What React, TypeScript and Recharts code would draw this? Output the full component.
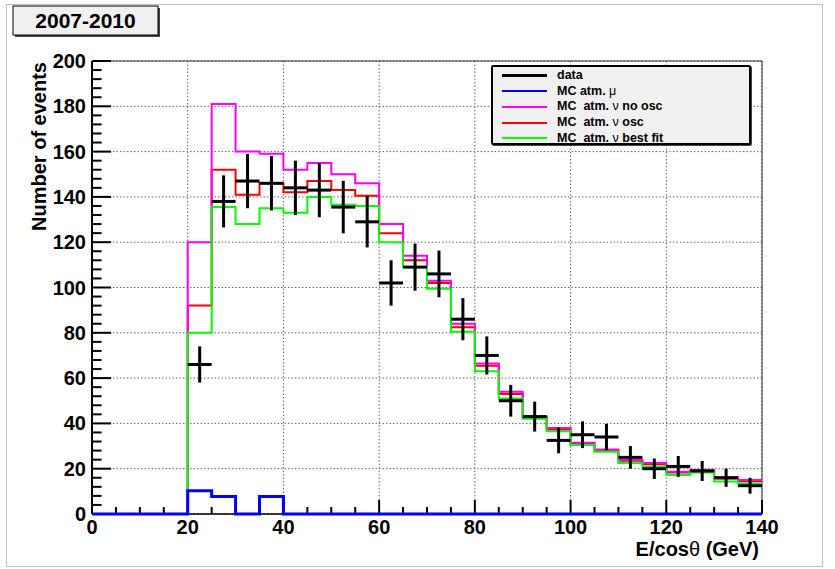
import React from 'react';
import {
  ComposedChart, Line, Scatter, ErrorBar, XAxis, YAxis, CartesianGrid, ReferenceLine, Legend, Label
} from 'recharts';

// histogram bins (GeV), 5 GeV wide
const binEdges = [0, 5, 10, 15, 20, 25, 30, 35, 40, 45, 50, 55, 60, 65, 70, 75, 80, 85, 90, 95, 100, 105, 110, 115, 120, 125, 130, 135, 140];

const atmMu = [0, 0, 0, 0, 10.3, 7.7, 0, 7.7, 0, 0, 0, 0, 0, 0, 0, 0, 0, 0, 0, 0, 0, 0, 0, 0, 0, 0, 0, 0];
const noOsc = [0, 0, 0, 0, 120, 181, 160, 159, 152, 155, 150, 146, 128, 114, 103, 84, 66.5, 54, 43, 38, 31.5, 28.5, 24, 22.5, 18.7, 19.4, 16.2, 15];
const osc = [0, 0, 0, 0, 92, 152, 141, 146, 142, 147, 143, 140.5, 124, 112, 102, 82.5, 65.5, 53, 42.8, 37.3, 31, 28, 23.5, 22, 18.3, 19, 15.7, 14.5];
const bestFit = [0, 0, 0, 0, 80, 135.5, 128, 135, 133, 140, 136.5, 136, 120, 109, 99.5, 80.5, 63, 51, 42, 36.5, 30.5, 27.5, 22.5, 21, 17.2, 18.3, 14.3, 13.5];

// data points
const binCenters = [22.5, 27.5, 32.5, 37.5, 42.5, 47.5, 52.5, 57.5, 62.5, 67.5, 72.5, 77.5, 82.5, 87.5, 92.5, 97.5, 102.5, 107.5, 112.5, 117.5, 122.5, 127.5, 132.5, 137.5];
const dataCounts = [66, 138, 147, 146, 144, 143, 135.5, 129, 102, 109, 106, 86, 70, 50, 43, 32.5, 35, 34, 25, 20, 21, 19, 16, 12.5];
const dataErrors = [8, 11.5, 12, 12, 12, 12, 11.6, 11.3, 10, 10.4, 10.3, 9.3, 8.4, 7, 6.6, 5.7, 5.9, 5.8, 5, 4.5, 4.6, 4.4, 4, 3.5];
const binHalfWidth = 2.5;

const xMajorTicks = [0, 20, 40, 60, 80, 100, 120, 140];
const xMinorTicks = binEdges;
const yMajorTicks = [0, 20, 40, 60, 80, 100, 120, 140, 160, 180, 200];
const yMinorTicks = Array.from({ length: 51 }, (_, i) => i * 4);

// inward tick lengths, in axis units
const X_TICK_MAJOR = 6.2;
const X_TICK_MINOR = 3.1;
const Y_TICK_MAJOR = 4;
const Y_TICK_MINOR = 2;

const last = noOsc.length - 1;
const histRows = binEdges.map((x, i) => ({
  x,
  mu: atmMu[Math.min(i, last)],
  noOsc: noOsc[Math.min(i, last)],
  osc: osc[Math.min(i, last)],
  bestFit: bestFit[Math.min(i, last)],
}));

const dataRows = binCenters.map((x, i) => ({ x, y: dataCounts[i], ey: dataErrors[i], ex: binHalfWidth }));

const FONT = "'Liberation Sans', Arial, Helvetica, sans-serif";

const legendItems = [
  { pre: 'data', greek: '', post: '', color: '#000000', w: 3 },
  { pre: 'MC atm. ', greek: 'μ', post: '', color: '#0000ff', w: 2 },
  { pre: 'MC  atm. ', greek: 'ν', post: ' no osc', color: '#ff00ff', w: 2 },
  { pre: 'MC  atm. ', greek: 'ν', post: ' osc', color: '#ff0000', w: 2 },
  { pre: 'MC  atm. ', greek: 'ν', post: ' best fit', color: '#00ff00', w: 2 },
];

const LegendBox = () => (
  <div style={{
    width: 260, height: 80, background: '#f0f0f0', border: '2px solid #000', borderRadius: 2,
    boxShadow: '1px 1px 0 #444', fontFamily: FONT, fontWeight: 'bold', fontSize: 12.5, color: '#000',
    paddingTop: 1, boxSizing: 'border-box',
  }}>
    {legendItems.map((it) => (
      <div key={it.color} style={{ display: 'flex', alignItems: 'center', height: 15.6 }}>
        <span style={{ display: 'inline-block', marginLeft: 9, width: 45, height: it.w, background: it.color }} />
        <span style={{ marginLeft: 10, whiteSpace: 'pre', lineHeight: '13px' }}>
          {it.pre}
          {it.greek && <span style={{ fontWeight: 'normal' }}>{it.greek}</span>}
          {it.post}
        </span>
      </div>
    ))}
  </div>
);

const XTick = (props: any) => {
  const { x, y, payload } = props;
  return (
    <text x={x} y={y + 19.5} textAnchor="middle" fontFamily={FONT} fontWeight="bold" fontSize={20} fill="#000">
      {payload.value}
    </text>
  );
};

const YTick = (props: any) => {
  const { x, y, payload } = props;
  return (
    <text x={x - 6} y={y + 7} textAnchor="end" fontFamily={FONT} fontWeight="bold" fontSize={20} fill="#000">
      {payload.value}
    </text>
  );
};

const YTitle = (props: any) => {
  const vb = props.viewBox || { x: 32, y: 61 };
  return (
    <text transform={`translate(${vb.x + 7},${vb.y + 1}) rotate(-90)`} textAnchor="end" dominantBaseline="central"
      fontFamily={FONT} fontWeight="bold" fontSize={20} fill="#000">
      Number of events
    </text>
  );
};

const XTitle = (props: any) => {
  const vb = props.viewBox || { x: 92, y: 514, width: 670 };
  return (
    <text x={vb.x + vb.width - 3} y={vb.y + 42} textAnchor="end" fontFamily={FONT} fontWeight="bold" fontSize={20} fill="#000">
      E/cos<tspan fontWeight="normal">θ</tspan> (GeV)
    </text>
  );
};

export default function App() {
  return (
    <div style={{ position: 'absolute', left: 0, top: 0, width: 835, height: 569, background: '#fff' }}>
      <ComposedChart width={835} height={569} data={histRows} margin={{ top: 61, right: 73, bottom: 25, left: 32 }}>
        <CartesianGrid stroke="#666" strokeDasharray="1.5 2" verticalValues={xMajorTicks} horizontalValues={yMajorTicks} />
        <CartesianGrid stroke="#000" strokeWidth={1.5} vertical={false} horizontalValues={[0]} />
        <XAxis dataKey="x" type="number" domain={[0, 140]} ticks={xMajorTicks}
          axisLine={false} tickLine={false} tickSize={0} tickMargin={0} tick={<XTick />} interval={0} height={30}>
          <Label content={<XTitle />} />
        </XAxis>
        <YAxis type="number" domain={[0, 200]} ticks={yMajorTicks} width={60}
          axisLine={{ stroke: '#000', strokeWidth: 2 }} tickLine={false} tickSize={0} tickMargin={0} tick={<YTick />} interval={0}>
          <Label content={<YTitle />} />
        </YAxis>
        <ReferenceLine y={200} stroke="#333" strokeWidth={1} />
        <ReferenceLine x={140} stroke="#333" strokeWidth={1} />
        {xMinorTicks.map((v) => (
          <ReferenceLine key={`xt${v}`} stroke="#000" strokeWidth={2}
            segment={[{ x: v, y: 0 }, { x: v, y: v % 20 === 0 ? X_TICK_MAJOR : X_TICK_MINOR }]} />
        ))}
        {yMinorTicks.map((v) => (
          <ReferenceLine key={`yt${v}`} stroke="#000" strokeWidth={2}
            segment={[{ x: 0, y: v }, { x: v % 20 === 0 ? Y_TICK_MAJOR : Y_TICK_MINOR, y: v }]} />
        ))}
        <Line type="stepAfter" dataKey="osc" stroke="#ff0000" strokeWidth={2} dot={false} isAnimationActive={false} />
        <Line type="stepAfter" dataKey="noOsc" stroke="#ff00ff" strokeWidth={2} dot={false} isAnimationActive={false} />
        <Line type="stepAfter" dataKey="bestFit" stroke="#00ff00" strokeWidth={2} dot={false} isAnimationActive={false} />
        <Line type="stepAfter" dataKey="mu" stroke="#0000ff" strokeWidth={3} dot={false} isAnimationActive={false} />
        <Scatter data={dataRows} dataKey="y" shape={() => <g />} isAnimationActive={false}>
          <ErrorBar dataKey="ey" direction="y" width={0} stroke="#000" strokeWidth={3} isAnimationActive={false} />
          <ErrorBar dataKey="ex" direction="x" width={0} stroke="#000" strokeWidth={3} isAnimationActive={false} />
        </Scatter>
        <Legend layout="vertical" align="center" verticalAlign="middle" content={<LegendBox />}
          wrapperStyle={{ position: 'absolute', left: 491, top: 65, width: 262, height: 82 }} />
      </ComposedChart>
      <svg width={835} height={569} style={{ position: 'absolute', left: 0, top: 0, pointerEvents: 'none' }}>
        <rect x={6.5} y={4.5} width={816} height={562} fill="none" stroke="#c0c0c0" strokeWidth={1} />
        <rect x={15} y={8} width={145} height={29} fill="#444" />
        <rect x={13} y={6} width={145} height={29} fill="#f0f0f0" stroke="#000" strokeWidth={1} />
        <text x={85.5} y={28} textAnchor="middle" fontFamily={FONT} fontWeight="bold" fontSize={21} fill="#000">2007-2010</text>
      </svg>
    </div>
  );
}
